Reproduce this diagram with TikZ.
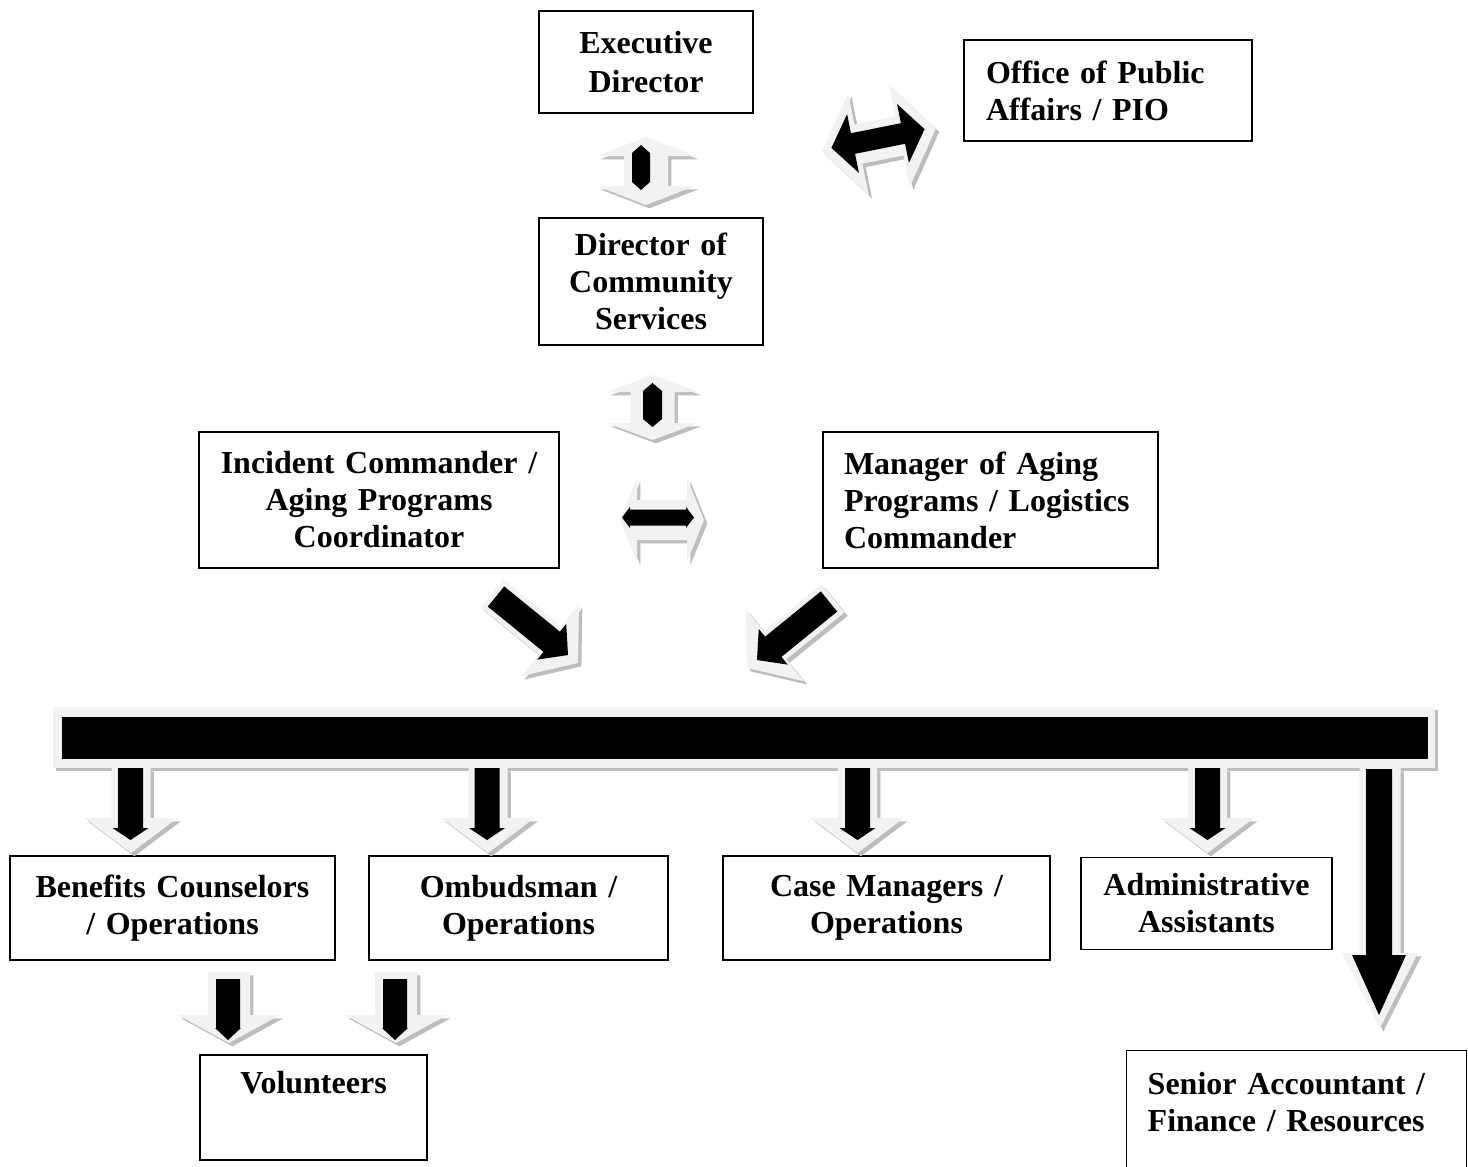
\documentclass[tikz,border=0pt]{standalone}
\usepackage{fontspec}
\setmainfont[WordSpace=0.85]{Liberation Serif}
\newdimen\pxu \pxu=0.75pt
\definecolor{litec}{HTML}{F2F2F2}
\definecolor{shdc}{HTML}{BDBDBD}
% single block arrow: style, transform, tail x, tip x, shaft half, head half, head length
\newcommand\blkarrow[7]{\path[#1,#2] (#3,-#5) -- ({#4-#7},-#5) -- ({#4-#7},-#6) -- (#4,0) -- ({#4-#7},#6) -- ({#4-#7},#5) -- (#3,#5) -- cycle;}
% double block arrow: style, transform, half length, shaft half, head half, head length
\newcommand\dblarrow[6]{\path[#1,#2] (-#3,0) -- ({-#3+#6},-#5) -- ({-#3+#6},-#4) -- ({#3-#6},-#4) -- ({#3-#6},-#5) -- (#3,0) -- ({#3-#6},#5) -- ({#3-#6},#4) -- ({-#3+#6},#4) -- ({-#3+#6},#5) -- cycle;}
\begin{document}
\begin{tikzpicture}[x=0.75pt,y=-0.75pt,
  box/.style={draw, line width=1.1pt, inner sep=0pt, rectangle,
    font=\fontsize{24pt}{27.75pt}\selectfont\bfseries},
  lite/.style={fill=litec, preaction={fill=shdc, transform canvas={shift={(2.5pt,-2.5pt)}}}},
  dark/.style={fill=black}]
\fill[white] (0,0) rectangle (1468,1167);
\useasboundingbox (0,0) rectangle (1468,1167);

% boxes
\node[box, minimum width=214\pxu, minimum height=102\pxu, text width=190\pxu, align=center] (exec) at (646,62) {\raisebox{2\pxu}{Executive}\\Director};
\node[box, minimum width=288\pxu, minimum height=101\pxu, text width=244\pxu, align=left] (pio) at (1108,90.5) {Office of Public\\Affairs / PIO};
\node[box, minimum width=224\pxu, minimum height=127\pxu, text width=204\pxu, align=center] (dcs) at (651,281.5) {Director of\\Community\\Services};
\node[box, minimum width=360\pxu, minimum height=136\pxu, text width=340\pxu, align=center] (ic) at (379,500) {Incident Commander /\\Aging Programs\\Coordinator};
\node[box, minimum width=335\pxu, minimum height=136\pxu, text width=293\pxu, align=left] (mgr) at (990.5,500) {Manager of Aging\\Programs / Logistics\\Commander};
\node[box, minimum width=325\pxu, minimum height=104\pxu, text width=305\pxu, align=center] (ben) at (172.5,908) {Benefits Counselors\\/ Operations};
\node[box, minimum width=299\pxu, minimum height=104\pxu, text width=280\pxu, align=center] (omb) at (518.5,908) {Ombudsman /\\Operations};
\node[box, minimum width=327\pxu, minimum height=104\pxu, text width=305\pxu, align=center] (case) at (886.5,908) {Case Managers /\\Operations};
\node[box, minimum width=251\pxu, minimum height=92\pxu, text width=235\pxu, align=center] (adm) at (1206.5,903.5) {Administrative\\Assistants};
\node[box, minimum width=227\pxu, minimum height=105\pxu, text width=205\pxu, align=center] (vol) at (313.5,1107.5) {Volunteers\\[10pt]\mbox{}};
\node[box, anchor=north west, minimum width=340\pxu, minimum height=140\pxu, text width=298\pxu, align=left] (sen) at (1126,1050) {Senior Accountant /\\Finance / Resources\\\mbox{}};

% vertical double arrows
\dblarrow{lite}{shift={(646,171)},rotate=90}{34}{22}{49}{19}
\dblarrow{dark}{shift={(641,167.5)},rotate=90}{22.5}{9}{9}{8}
\dblarrow{lite}{shift={(652.5,407.5)},rotate=90}{32.5}{22}{45.5}{17}
\dblarrow{dark}{shift={(652.5,405)},rotate=90}{22}{9.5}{9.5}{8}
% horizontal double arrow
\dblarrow{lite}{shift={(662,520)}}{42}{20}{42}{17}
\dblarrow{dark}{shift={(658,517.5)}}{36}{8}{10.5}{8}
% diagonal double arrow to PIO
\dblarrow{lite}{shift={(879,140)},rotate=11.4}{58}{20}{52}{37}
\dblarrow{dark}{shift={(878,138.5)},rotate=11.4}{47.5}{10.5}{30}{22}

% diagonal arrows into the bar
\blkarrow{lite}{shift={(492,593.5)},rotate=-38.9}{0}{110.6}{18}{46}{36}
\blkarrow{dark}{shift={(496,596.5)},rotate=-39.1}{0}{92.8}{13}{23}{21}
\blkarrow{lite}{shift={(833,598.5)},rotate=-141.1}{0}{110.6}{18}{46}{36}
\blkarrow{dark}{shift={(829,601.5)},rotate=-140.9}{0}{92.8}{13}{23}{21}

% bar
\path[lite] (53,707) rectangle (1435,768);
\fill[black] (62,717) rectangle (1428,759);

% down arrows from bar
\blkarrow{lite}{shift={(131,768)},rotate=-90}{0}{85}{19.5}{46.5}{35}
\blkarrow{dark}{shift={(130.5,768)},rotate=-90}{0}{72}{12.5}{18}{12}
\blkarrow{lite}{shift={(488,768)},rotate=-90}{0}{85}{19.5}{46.5}{35}
\blkarrow{dark}{shift={(487,768)},rotate=-90}{0}{72}{12.5}{18}{12}
\blkarrow{lite}{shift={(857.5,768)},rotate=-90}{0}{85}{19.5}{46.5}{35}
\blkarrow{dark}{shift={(857.5,768)},rotate=-90}{0}{72}{12.5}{18}{12}
\blkarrow{lite}{shift={(1207.5,768)},rotate=-90}{0}{85}{19.5}{46.5}{35}
\blkarrow{dark}{shift={(1207.5,768)},rotate=-90}{0}{72}{12.5}{18}{12}
% long arrow to senior accountant
\blkarrow{lite}{shift={(1380,768)},rotate=-90}{0}{260}{20.5}{38}{75}
\blkarrow{dark}{shift={(1379,769)},rotate=-90}{0}{246}{13}{27}{60}

% arrows to volunteers
\blkarrow{lite}{shift={(229,972)},rotate=-90}{0}{71}{21}{51}{28}
\blkarrow{dark}{shift={(228,979)},rotate=-90}{0}{61}{12}{13}{12}
\blkarrow{lite}{shift={(396,972)},rotate=-90}{0}{71}{21}{51}{28}
\blkarrow{dark}{shift={(395,979)},rotate=-90}{0}{61}{12}{13}{12}
\end{tikzpicture}
\end{document}
